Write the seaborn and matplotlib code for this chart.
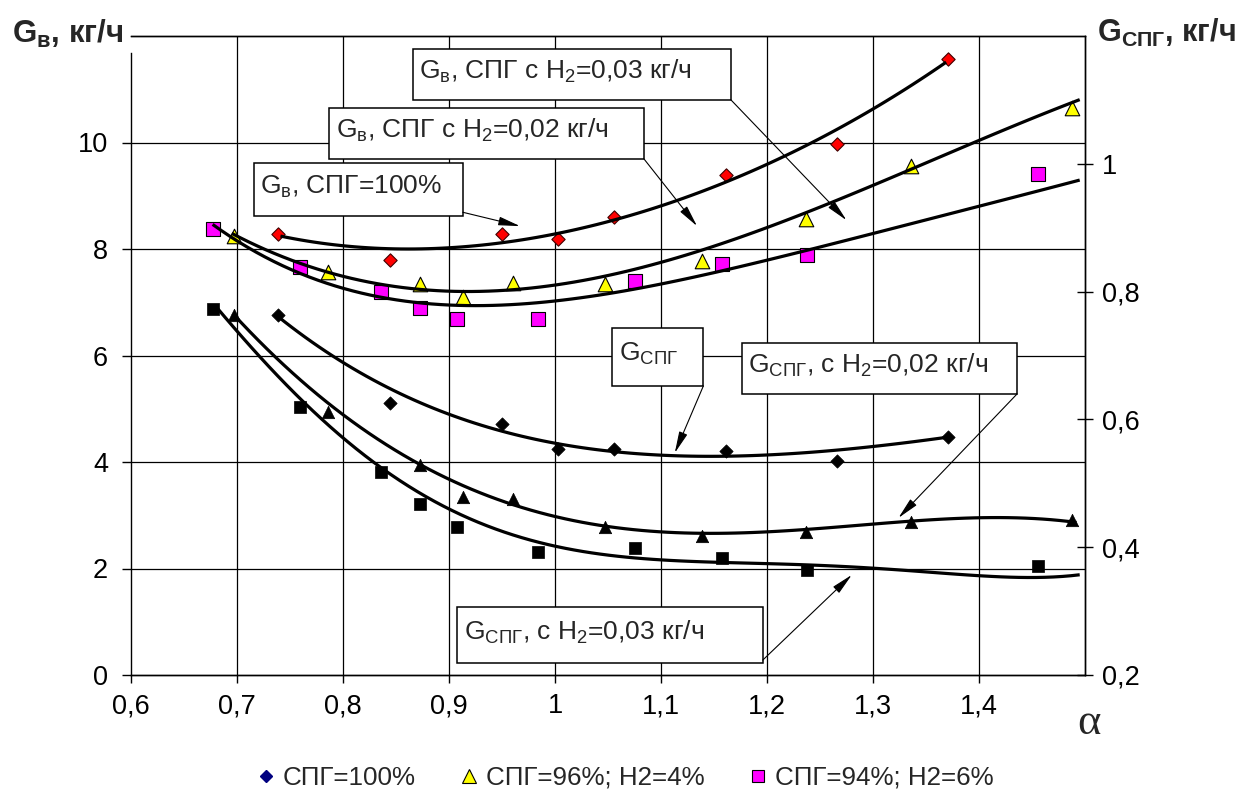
import numpy as np
import pandas as pd
import matplotlib
matplotlib.use("Agg")
import matplotlib.pyplot as plt
from matplotlib.patches import Rectangle
from matplotlib.lines import Line2D
import seaborn as sns

alpha_100 = [0.739, 0.844, 0.950, 1.003, 1.056, 1.161, 1.266, 1.371]
gv_100 = [8.29, 7.80, 8.29, 8.18, 8.61, 9.39, 9.98, 11.57]
gspg_100 = [0.764, 0.626, 0.593, 0.554, 0.553, 0.550, 0.535, 0.573]

alpha_96 = [0.697, 0.786, 0.873, 0.913, 0.960, 1.047, 1.139, 1.237, 1.336, 1.488]
gv_96 = [8.25, 7.56, 7.35, 7.09, 7.37, 7.35, 7.78, 8.57, 9.55, 10.65]
gspg_96 = [0.763, 0.611, 0.529, 0.479, 0.475, 0.432, 0.418, 0.424, 0.440, 0.443]

alpha_94 = [0.677, 0.759, 0.836, 0.873, 0.908, 0.984, 1.075, 1.158, 1.238, 1.456]
gv_94 = [8.38, 7.67, 7.19, 6.90, 6.69, 6.69, 7.39, 7.71, 7.89, 9.41]
gspg_94 = [0.772, 0.620, 0.517, 0.468, 0.432, 0.393, 0.399, 0.383, 0.365, 0.371]

# ---------------- trend lines ----------------
tr_gv100_x = [0.741, 0.828, 0.873, 0.898, 0.998, 1.055, 1.160, 1.231, 1.250, 1.297, 1.369]
tr_gv100_y = [8.24, 8.02, 8.00, 8.04, 8.24, 8.54, 9.30, 9.86, 10.05, 10.61, 11.51]

tr_gv96_x = [0.695, 0.786, 0.823, 0.873, 0.901, 0.967, 0.998, 1.055, 1.106, 1.143,
             1.200, 1.250, 1.335, 1.394, 1.495]
tr_gv96_y = [8.30, 7.55, 7.38, 7.25, 7.21, 7.23, 7.32, 7.55, 7.79, 8.02,
             8.36, 8.77, 9.52, 9.99, 10.80]

tr_gv94_x = [0.677, 0.759, 0.835, 0.873, 0.910, 0.967, 1.005, 1.074, 1.137, 1.200,
             1.250, 1.394, 1.495]
tr_gv94_y = [8.39, 7.70, 7.17, 6.89, 6.86, 6.91, 7.02, 7.29, 7.55, 7.83,
             8.04, 8.69, 9.33]

tr_gs100_x = [0.739, 0.791, 0.844, 0.898, 0.948, 1.002, 1.055, 1.115, 1.162, 1.231,
              1.294, 1.344, 1.371]
tr_gs100_y = [0.761, 0.698, 0.647, 0.611, 0.584, 0.560, 0.550, 0.543, 0.542, 0.548,
              0.557, 0.565, 0.573]

tr_gs96_x = [0.696, 0.747, 0.797, 0.873, 0.917, 0.967, 0.995, 1.042, 1.106, 1.168,
             1.231, 1.294, 1.344, 1.401, 1.464, 1.492]
tr_gs96_y = [0.767, 0.678, 0.611, 0.532, 0.495, 0.463, 0.448, 0.432, 0.424, 0.423,
             0.429, 0.435, 0.440, 0.446, 0.445, 0.438]

tr_gs94_x = [0.681, 0.728, 0.775, 0.823, 0.873, 0.917, 0.967, 1.011, 1.074, 1.137,
             1.200, 1.262, 1.325, 1.401, 1.460, 1.495]
tr_gs94_y = [0.772, 0.689, 0.611, 0.548, 0.474, 0.438, 0.415, 0.404, 0.391, 0.380,
             0.369, 0.366, 0.363, 0.360, 0.355, 0.354]

x_ticks = [0.6, 0.7, 0.8, 0.9, 1.0, 1.1, 1.2, 1.3, 1.4]
x_ticklabels = ["0,6", "0,7", "0,8", "0,9", "1", "1,1", "1,2", "1,3", "1,4"]
yl_ticks = [0, 2, 4, 6, 8, 10]
yl_ticklabels = ["0", "2", "4", "6", "8", "10"]
yr_ticks = [0.2, 0.4, 0.6, 0.8, 1.0]
yr_ticklabels = ["0,2", "0,4", "0,6", "0,8", "1"]

legend_labels = ["СПГ=100%", "СПГ=96%; H2=4%", "СПГ=94%; H2=6%"]

# ---------------- style ----------------
sns.set_style("white")
plt.rcParams["font.family"] = ["Liberation Sans", "DejaVu Sans"]
plt.rcParams["mathtext.fontset"] = "custom"
plt.rcParams["mathtext.rm"] = "Liberation Sans"
plt.rcParams["mathtext.it"] = "Liberation Sans:italic"
plt.rcParams["mathtext.bf"] = "Liberation Sans:bold"

W, H = 1241, 790
L, R, T, B = 131, 1085, 36, 675
fig = plt.figure(figsize=(W / 100, H / 100), dpi=100)
fig.patch.set_facecolor("white")
ax = fig.add_axes([L / W, 1 - B / H, (R - L) / W, (B - T) / H])
ax2 = ax.twinx()
XMIN, XMAX = 0.6, 1.5


def trend(axis, x, y, order):
    sns.regplot(x=np.array(x), y=np.array(y), order=order, ci=None,
                scatter=False, truncate=True, ax=axis,
                line_kws=dict(color="black", lw=2.3, zorder=4,
                              solid_capstyle="butt"))


# scatter markers
sns.scatterplot(x=alpha_100, y=gv_100, marker="D", s=46, color="#FF0000",
                edgecolor="#400000", linewidth=0.8, ax=ax, zorder=3, legend=False)
sns.scatterplot(x=alpha_96, y=gv_96, marker="^", s=110, color="#FFFF00",
                edgecolor="black", linewidth=0.8, ax=ax, zorder=3, legend=False)
sns.scatterplot(x=alpha_94, y=gv_94, marker="s", s=88, color="#FF00FF",
                edgecolor="black", linewidth=0.8, ax=ax, zorder=3, legend=False)

sns.scatterplot(x=alpha_100, y=gspg_100, marker="D", s=46, color="black",
                edgecolor="black", linewidth=0.5, ax=ax2, zorder=3, legend=False)
sns.scatterplot(x=alpha_96, y=gspg_96, marker="^", s=80, color="black",
                edgecolor="black", linewidth=0.5, ax=ax2, zorder=3, legend=False)
sns.scatterplot(x=alpha_94, y=gspg_94, marker="s", s=64, color="black",
                edgecolor="black", linewidth=0.5, ax=ax2, zorder=3, legend=False)

# trend lines
trend(ax, tr_gv100_x, tr_gv100_y, 4)
trend(ax, tr_gv96_x, tr_gv96_y, 4)
trend(ax, tr_gv94_x, tr_gv94_y, 4)
trend(ax2, tr_gs100_x, tr_gs100_y, 4)
trend(ax2, tr_gs96_x, tr_gs96_y, 5)
trend(ax2, tr_gs94_x, tr_gs94_y, 5)

# ---------------- axes ----------------
ax.set_xlim(XMIN, XMAX)
ax.set_ylim(0, 12)
ax2.set_ylim(0.2, 1.2)
for a in (ax, ax2):
    a.set_xlabel("")
    a.set_ylabel("")
    for s in a.spines.values():
        s.set_color("black")
        s.set_linewidth(1.0)
# the left axis line stops just below the top border (as in the original)
ax2.spines["left"].set_visible(False)
ax.spines["left"].set_bounds(0, 11.68)

ax.set_xticks(x_ticks)
ax.set_xticklabels(x_ticklabels)
ax.set_yticks(yl_ticks)
ax.set_yticklabels(yl_ticklabels)
ax2.set_yticks(yr_ticks)
ax2.set_yticklabels(yr_ticklabels)

ax.tick_params(axis="x", direction="out", length=6, width=1, pad=7,
               labelsize=19.5, colors="black", bottom=True)
ax.tick_params(axis="y", direction="out", length=6.5, width=1, pad=10,
               labelsize=19.5, colors="black", left=True)
ax2.tick_params(axis="y", direction="inout", length=12, width=1, pad=6,
                labelsize=19.5, colors="black", right=True)

# grid lines
for gx in x_ticks[1:]:
    ax.axvline(gx, color="black", lw=0.9, zorder=1)
for gy in [2, 4, 6, 8, 10]:
    ax.axhline(gy, color="black", lw=0.9, zorder=1)

# ---------------- annotations ----------------
boxes = [
    (0.866, 1.166, 10.80, 11.76, "G$_\\mathregular{в}$, СПГ с H$_\\mathregular{2}$=0,03 кг/ч"),
    (0.787, 1.084, 9.69, 10.65, "G$_\\mathregular{в}$, СПГ с H$_\\mathregular{2}$=0,02 кг/ч"),
    (0.716, 0.913, 8.62, 9.61, "G$_\\mathregular{в}$, СПГ=100%"),
    (1.054, 1.140, 5.43, 6.52, "G$_\\mathregular{СПГ}$"),
    (1.176, 1.436, 5.28, 6.23, "G$_\\mathregular{СПГ}$, с H$_\\mathregular{2}$=0,02 кг/ч"),
    (0.908, 1.196, 0.225, 1.277, "G$_\\mathregular{СПГ}$, с H$_\\mathregular{2}$=0,03 кг/ч"),
]
arrows = [
    ((1.166, 10.80), (1.275, 8.54)),
    ((1.084, 9.69), (1.134, 8.43)),
    ((0.913, 8.69), (0.967, 8.43)),
    ((1.140, 5.43), (1.113, 4.17)),
    ((1.436, 5.28), (1.324, 2.95)),
    ((1.196, 0.28), (1.280, 1.88)),
]
for x0, x1, y0, y1, txt in boxes:
    ax2.add_patch(Rectangle((x0, y0), x1 - x0, y1 - y0, transform=ax.transData,
                            facecolor="white", edgecolor="black", lw=1.1, zorder=6))
    ax2.text(x0 + 0.006, (y0 + y1) / 2 + 0.05, txt, transform=ax.transData,
             ha="left", va="center", fontsize=19, zorder=7)
for (sx, sy), (tx, ty) in arrows:
    ax2.annotate("", xy=(tx, ty), xytext=(sx, sy), xycoords=ax.transData,
                 textcoords=ax.transData, zorder=6,
                 arrowprops=dict(arrowstyle="-|>,head_length=1.1,head_width=0.22",
                                 color="black", lw=0.8, mutation_scale=12,
                                 shrinkA=0, shrinkB=0))

# ---------------- titles ----------------
fig.text(12 / W, 1 - 34 / H, "G$_\\mathregular{в}$, кг/ч", ha="left", va="center",
         fontsize=22.5, fontweight="bold")
fig.text(1097 / W, 1 - 33 / H, "G$_\\mathregular{СПГ}$, кг/ч", ha="left", va="center",
         fontsize=22, fontweight="bold")
fig.text(1089 / W, 1 - 723 / H, "α", family="Liberation Serif", fontsize=32,
         ha="center", va="center")

# ---------------- legend ----------------
handles = [
    Line2D([], [], ls="none", marker="D", ms=6.5, mfc="#000080", mec="#000080"),
    Line2D([], [], ls="none", marker="^", ms=9.5, mfc="#FFFF00", mec="black", mew=0.8),
    Line2D([], [], ls="none", marker="s", ms=8.5, mfc="#FF00FF", mec="black", mew=0.8),
]
fig.legend(handles, legend_labels, loc="center", bbox_to_anchor=(626 / W, 1 - 778 / H),
           ncol=3, frameon=False, fontsize=18.7, handlelength=0.6, handletextpad=0.35,
           columnspacing=1.75)

fig.savefig("out.png", dpi=100, facecolor="white")
